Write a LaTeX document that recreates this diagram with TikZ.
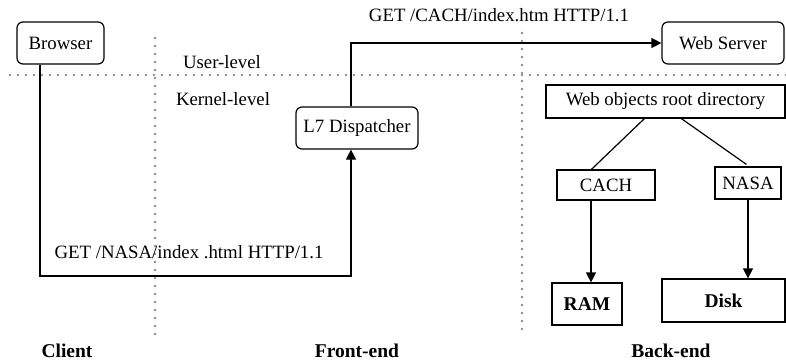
\documentclass[tikz,border=0pt]{standalone}
\usepackage{fontspec}
\setmainfont{Liberation Serif}
\usetikzlibrary{arrows.meta,calc}
\begin{document}
\begin{tikzpicture}[x=1pt,y=-1pt,
  font=\fontsize{18.8}{22}\selectfont,
  rbox/.style={draw,rounded corners=6pt,line width=1.2pt,inner sep=0pt},
  sbox/.style={draw,line width=1.2pt,inner sep=0pt},
  wire/.style={line width=1.2pt},
  arr/.style={wire,-{Triangle[length=10pt,width=10pt]}},
  sep/.style={draw=black!45,line width=2.8pt,line cap=round,dash pattern=on 0pt off 8pt},
  tag/.style={font=\fontsize{19.5}{22}\selectfont\bfseries}]
\useasboundingbox (0,0) rectangle (786,362);

% separators between levels and tiers
\draw[sep] (10,75) -- (786,75);
\draw[sep] (155,38) -- (155,335);
\draw[sep] (522,33) -- (522,331);

% components
\node[rbox,minimum width=87,minimum height=42] (browser) at (60.5,43) {Browser};
\node[rbox,minimum width=122,minimum height=42] (ws) at (723,43) {Web Server};
\node[rbox,minimum width=122,minimum height=42] (l7) at (357,128) {L7 Dispatcher};
\node[sbox,minimum width=239,minimum height=33] (root) at (665.5,101.5) {Web objects root directory};
\node[sbox,minimum width=98,minimum height=30] (cach) at (606,185) {CACH};
\node[sbox,minimum width=66,minimum height=32] (nasa) at (748,183) {NASA};
\node[sbox,tag,minimum width=70,minimum height=42] (ram) at (587,304) {RAM};
\node[sbox,tag,minimum width=123,minimum height=43] (disk) at (723.5,300.5) {Disk};

% labels
\node (getc) at (499,15) {GET /CACH/index.htm HTTP/1.1};
\node (getn) at (189,252) {GET /NASA/index .html HTTP/1.1};
\node (ul) at (222,62) {User-level};
\node (kl) at (223,99) {Kernel-level};
\node[tag] (client) at (67,351) {Client};
\node[tag] (front) at (357,351) {Front-end};
\node[tag] (back) at (671,351) {Back-end};

% request paths
\coordinate (xa) at (40,0);
\coordinate (xb) at (351,0);
\coordinate (ylow) at (0,276);
\draw[arr] (browser.south -| xa) -- (xa |- ylow) -- (xb |- ylow) -- (l7.south -| xb);
\draw[arr] (l7.north -| xb) -- (xb |- ws.west) -- (ws.west);

% directory tree
\draw[wire] ($(root.south west)+(99,0)$) -- ($(cach.north west)+(35,0)$);
\draw[wire] ($(root.south west)+(136,0)$) -- ($(nasa.north west)+(32,-2)$);
\coordinate (xc) at (591,0);
\coordinate (xd) at (748,0);
\draw[arr] (cach.south -| xc) -- (ram.north -| xc);
\draw[arr] (nasa.south -| xd) -- (disk.north -| xd);
\end{tikzpicture}
\end{document}
